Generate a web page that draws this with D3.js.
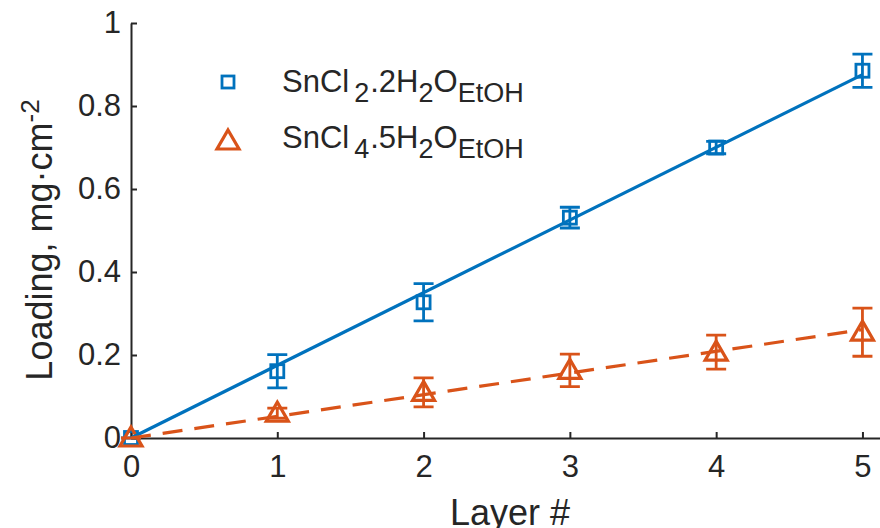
<!DOCTYPE html>
<html>
<head>
<meta charset="utf-8">
<script src="https://cdn.jsdelivr.net/npm/d3@7"></script>
<style>
  body { margin: 0; background: #fff; }
  svg { display: block; font-family: "Liberation Sans", Arial, sans-serif; }
</style>
</head>
<body>
<svg id="canvas" width="880" height="528"></svg>
<script>
// data
const layers = [0, 1, 2, 3, 4, 5];
const sncl2Loading = [0, 0.161, 0.327, 0.531, 0.700, 0.885];
const sncl2Error = [0, 0.040, 0.045, 0.025, 0.015, 0.040];
const sncl4Loading = [0, 0.060, 0.110, 0.163, 0.207, 0.255];
const sncl4Error = [0, 0.012, 0.035, 0.039, 0.041, 0.058];
const xTicks = [0, 1, 2, 3, 4, 5];
const yTicks = [0, 0.2, 0.4, 0.6, 0.8, 1];
const yTickLabels = ["0", "0.2", "0.4", "0.6", "0.8", "1"];

const blue = "#0072BD";
const orange = "#D95319";
const axisColor = "#262626";

const canvas = d3.select("#canvas");

const x = d3.scaleLinear().domain([0, 5.12]).range([131, 880]);
const y = d3.scaleLinear().domain([0, 1]).range([438, 23]);

// least squares line through the origin
const fitSlope = (ys) => d3.sum(layers, (l, i) => l * ys[i]) / d3.sum(layers, (l) => l * l);

// axes
const xAxis = d3.axisBottom(x).tickValues(xTicks).tickSizeInner(-6).tickSizeOuter(0)
    .tickPadding(17).tickFormat(d3.format("d"));
const yAxis = d3.axisLeft(y).tickValues(yTicks).tickSizeInner(-6).tickSizeOuter(0)
    .tickPadding(10).tickFormat((d, i) => yTickLabels[i]);

const gx = canvas.append("g").attr("transform", "translate(0," + y(0) + ")").call(xAxis);
const gy = canvas.append("g").attr("transform", "translate(" + x(0) + ",0)").call(yAxis);

[gx, gy].forEach((g) => {
    g.select(".domain").attr("stroke", axisColor).attr("stroke-width", 2);
    g.selectAll(".tick line").attr("stroke", axisColor).attr("stroke-width", 2);
    g.selectAll(".tick text").attr("fill", axisColor).style("font-size", "31px")
        .style("font-family", "'Liberation Sans', Arial, sans-serif");
});
gx.selectAll(".tick text").attr("dy", "0.71em");

// axis titles
canvas.append("text")
    .attr("x", 510).attr("y", 525)
    .attr("text-anchor", "middle")
    .attr("fill", axisColor)
    .style("font-size", "36px")
    .text("Layer #");

const yTitle = canvas.append("text")
    .attr("transform", "translate(52,240) rotate(-90)")
    .attr("text-anchor", "middle")
    .attr("fill", axisColor)
    .style("font-size", "36px");
yTitle.append("tspan").text("Loading, mg\u00B7cm");
yTitle.append("tspan").attr("dy", -13).style("font-size", "26px").text("-2");

// series
const drawSeries = (values, errors, color, marker) => {
    const g = canvas.append("g");
    const pts = layers.map((l, i) => ({ l: l, v: values[i], e: errors[i] }));
    const cap = 10;

    g.selectAll(".err").data(pts).enter().append("path")
        .attr("fill", "none").attr("stroke", color).attr("stroke-width", 2.8)
        .attr("d", (d) => {
            const cx = x(d.l), y0 = y(d.v - d.e), y1 = y(d.v + d.e);
            return "M" + cx + "," + y0 + "V" + y1
                + "M" + (cx - cap) + "," + y0 + "H" + (cx + cap)
                + "M" + (cx - cap) + "," + y1 + "H" + (cx + cap);
        });

    if (marker === "square") {
        g.selectAll(".mk").data(pts).enter().append("rect")
            .attr("x", (d) => x(d.l) - 6.5).attr("y", (d) => y(d.v) - 6.5)
            .attr("width", 13).attr("height", 13)
            .attr("fill", "none").attr("stroke", color).attr("stroke-width", 2.8);
    } else {
        g.selectAll(".mk").data(pts).enter().append("path")
            .attr("fill", "none").attr("stroke", color).attr("stroke-width", 3.2)
            .attr("stroke-linejoin", "miter")
            .attr("d", (d) => {
                const cx = x(d.l), cy = y(d.v);
                return "M" + cx + "," + (cy - 11) + "L" + (cx + 11) + "," + (cy + 8)
                    + "L" + (cx - 11) + "," + (cy + 8) + "Z";
            });
    }
};

drawSeries(sncl2Loading, sncl2Error, blue, "square");
drawSeries(sncl4Loading, sncl4Error, orange, "triangle");

// fitted lines
const fitLine = (values, color, dash) => {
    const k = fitSlope(values);
    canvas.append("path")
        .datum(d3.extent(layers))
        .attr("fill", "none").attr("stroke", color).attr("stroke-width", 3.2)
        .attr("stroke-dasharray", dash)
        .attr("d", d3.line().x((d) => x(d)).y((d) => y(k * d)));
};
fitLine(sncl2Loading, blue, null);
fitLine(sncl4Loading, orange, "20,12");

// legend
const legend = canvas.append("g");
legend.append("rect")
    .attr("x", 222).attr("y", 76).attr("width", 12).attr("height", 12)
    .attr("fill", "none").attr("stroke", blue).attr("stroke-width", 2.8);
legend.append("path")
    .attr("d", "M228,130L239,149L217,149Z")
    .attr("fill", "none").attr("stroke", orange).attr("stroke-width", 3.2);

const legendLabel = (yPos, metal, water) => {
    const t = legend.append("text").attr("x", 282).attr("y", yPos)
        .attr("fill", axisColor).style("font-size", "31px");
    t.append("tspan").text("SnCl");
    t.append("tspan").attr("dx", 5).attr("dy", 10).style("font-size", "27px").text(metal);
    t.append("tspan").attr("dx", 1).attr("dy", -10).text("." + water + "H");
    t.append("tspan").attr("dy", 10).style("font-size", "27px").text("2");
    t.append("tspan").attr("dy", -10).text("O");
    t.append("tspan").attr("dy", 10).style("font-size", "27px").text("EtOH");
};
legendLabel(92, "2", "2");
legendLabel(148, "4", "5");
</script>
</body>
</html>
